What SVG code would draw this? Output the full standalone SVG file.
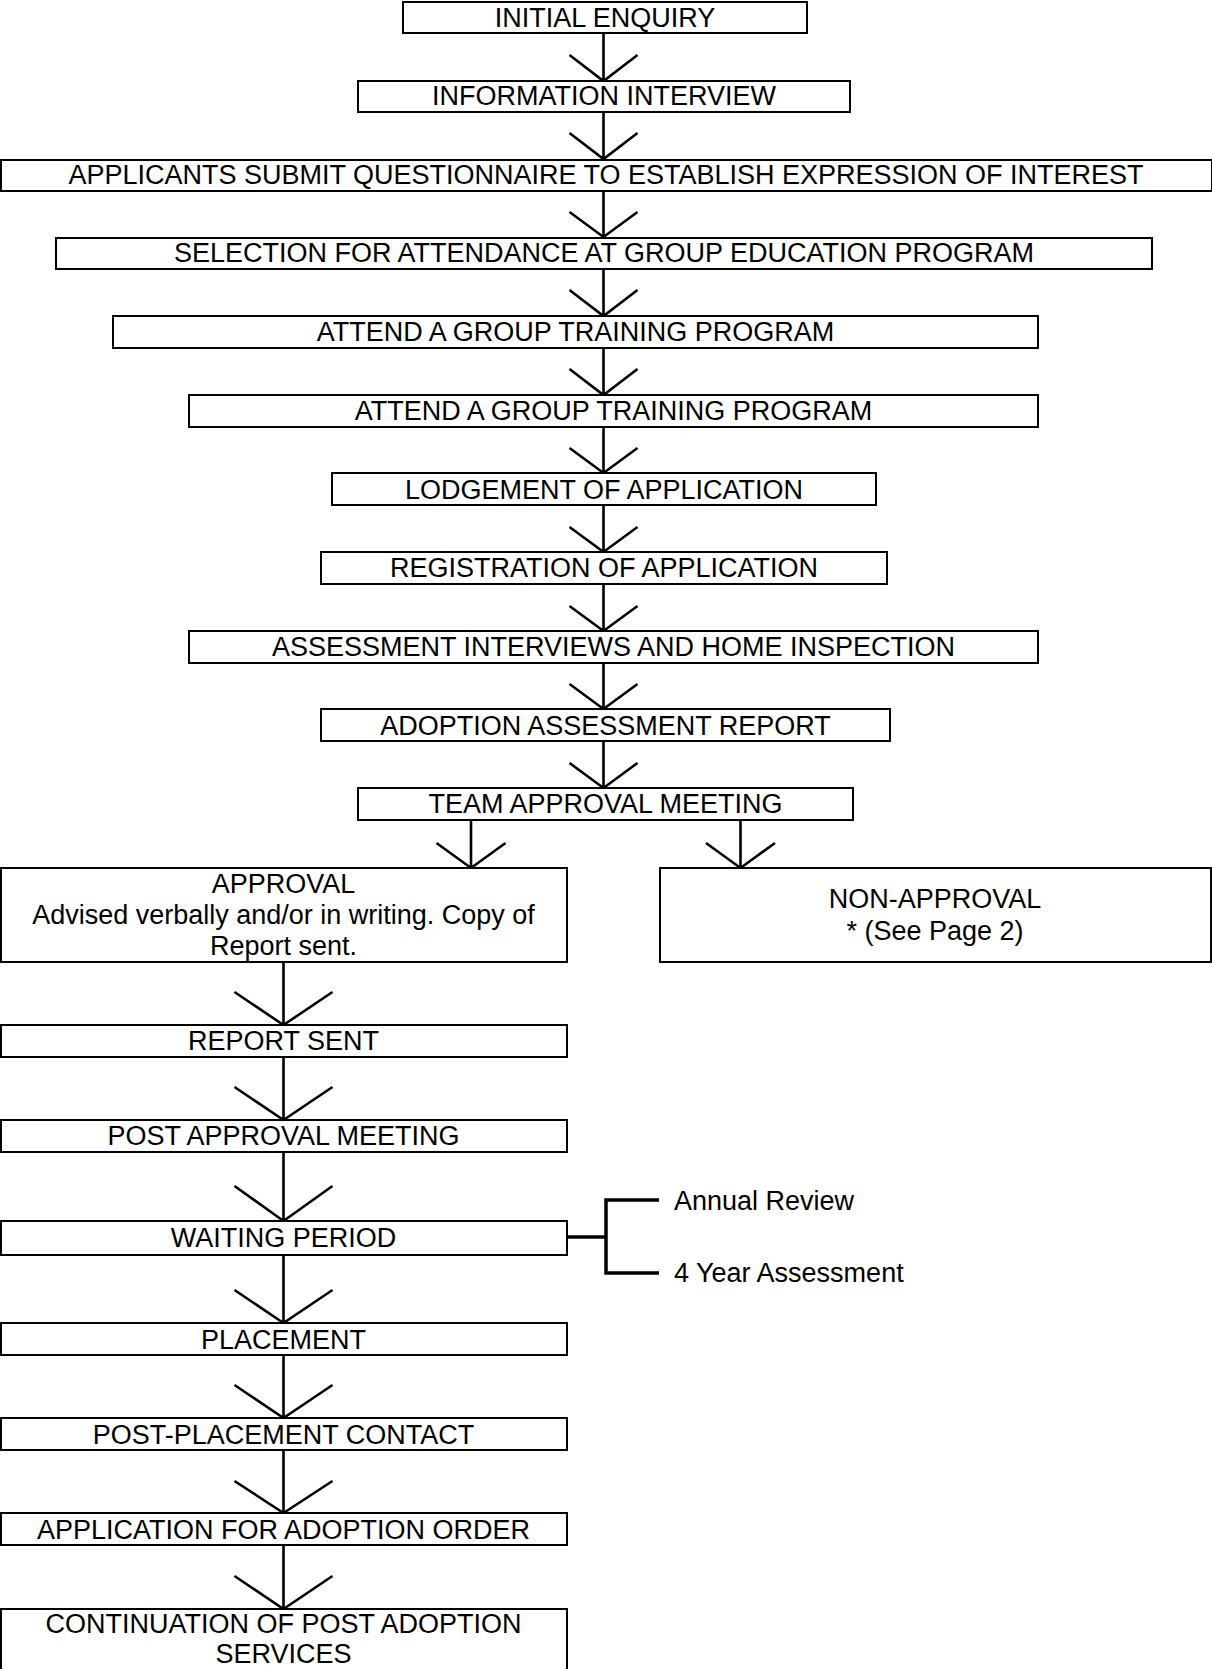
<svg xmlns="http://www.w3.org/2000/svg" width="1212" height="1669" viewBox="0 0 1212 1669">
<style>
.box{fill:#fff;stroke:#000;stroke-width:2}
.t{font-family:"Liberation Sans",Arial,sans-serif;font-size:27px;fill:#000;text-anchor:middle}
.s{font-family:"Liberation Sans",Arial,sans-serif;font-size:27px;fill:#000}
.ln{fill:none;stroke:#000;stroke-width:2.6}
.br{fill:none;stroke:#000;stroke-width:3.5}
</style>
<rect width="1212" height="1669" fill="#fff"/>
<g id="connectors">
<path class="ln" d="M603.5 33V81M569.5 55L603.5 81L637.5 55"/>
<path class="ln" d="M603.5 112V159M569.5 133L603.5 159L637.5 133"/>
<path class="ln" d="M603.5 191V237M569.5 212L603.5 237L637.5 212"/>
<path class="ln" d="M603.5 269V316M569.5 290L603.5 316L637.5 290"/>
<path class="ln" d="M603.5 348V395M569.5 369L603.5 395L637.5 369"/>
<path class="ln" d="M603.5 427V473M569.5 448L603.5 473L637.5 448"/>
<path class="ln" d="M603.5 505V552M569.5 527L603.5 552L637.5 527"/>
<path class="ln" d="M603.5 584V631M569.5 606L603.5 631L637.5 606"/>
<path class="ln" d="M603.5 663V709M569.5 684L603.5 709L637.5 684"/>
<path class="ln" d="M603.5 741V788M569.5 763L603.5 788L637.5 763"/>
<path class="ln" d="M471 820V868M436.5 843L471 868L505.5 843"/>
<path class="ln" d="M740.5 820V868M706 843L740.5 868L775 843"/>
<path class="ln" d="M283.5 962V1025M234.5 992L283.5 1025L332.5 992"/>
<path class="ln" d="M283.5 1057V1120M234.5 1087L283.5 1120L332.5 1087"/>
<path class="ln" d="M283.5 1152V1221M234.5 1186L283.5 1221L332.5 1186"/>
<path class="ln" d="M283.5 1255V1323M234.5 1290L283.5 1323L332.5 1290"/>
<path class="ln" d="M283.5 1355V1418M234.5 1385L283.5 1418L332.5 1385"/>
<path class="ln" d="M283.5 1450V1513M234.5 1481L283.5 1513L332.5 1481"/>
<path class="ln" d="M283.5 1545V1609M234.5 1576L283.5 1609L332.5 1576"/>
<path class="br" d="M567 1237H606M659 1200H606V1273H659"/>
</g>
<g id="n1"><rect class="box" x="403" y="2" width="404" height="31"/><text class="t" x="605" y="27">INITIAL ENQUIRY</text></g>
<g id="n2"><rect class="box" x="358" y="81" width="492" height="31"/><text class="t" x="604" y="105">INFORMATION INTERVIEW</text></g>
<g id="n3"><rect class="box" x="1" y="160" width="1211" height="31"/><text class="t" x="606" y="183.5">APPLICANTS SUBMIT QUESTIONNAIRE TO ESTABLISH EXPRESSION OF INTEREST</text></g>
<g id="n4"><rect class="box" x="56" y="238" width="1096" height="31"/><text class="t" x="604" y="262">SELECTION FOR ATTENDANCE AT GROUP EDUCATION PROGRAM</text></g>
<g id="n5"><rect class="box" x="113" y="316" width="925" height="32"/><text class="t" x="575.5" y="340.5">ATTEND A GROUP TRAINING PROGRAM</text></g>
<g id="n6"><rect class="box" x="189" y="395" width="849" height="32"/><text class="t" x="613.5" y="419.5">ATTEND A GROUP TRAINING PROGRAM</text></g>
<g id="n7"><rect class="box" x="332" y="473" width="544" height="32"/><text class="t" x="604" y="498.5">LODGEMENT OF APPLICATION</text></g>
<g id="n8"><rect class="box" x="321" y="552" width="566" height="32"/><text class="t" x="604" y="577">REGISTRATION OF APPLICATION</text></g>
<g id="n9"><rect class="box" x="189" y="631" width="849" height="32"/><text class="t" x="613.5" y="656">ASSESSMENT INTERVIEWS AND HOME INSPECTION</text></g>
<g id="n10"><rect class="box" x="321" y="709" width="569" height="32"/><text class="t" x="605.5" y="734.5">ADOPTION ASSESSMENT REPORT</text></g>
<g id="n11"><rect class="box" x="358" y="788" width="495" height="32"/><text class="t" x="605.5" y="812.5">TEAM APPROVAL MEETING</text></g>
<g id="n12"><rect class="box" x="1" y="868" width="566" height="94"/><text class="t" x="283.5" y="893">APPROVAL</text><text class="t" x="283.5" y="924">Advised verbally and/or in writing. Copy of</text><text class="t" x="283.5" y="955">Report sent.</text></g>
<g id="n13"><rect class="box" x="660" y="868" width="551" height="94"/><text class="t" x="935" y="908">NON-APPROVAL</text><text class="t" x="935" y="940">* (See Page 2)</text></g>
<g id="n14"><rect class="box" x="1" y="1025" width="566" height="32"/><text class="t" x="283.5" y="1049.5">REPORT SENT</text></g>
<g id="n15"><rect class="box" x="1" y="1120" width="566" height="32"/><text class="t" x="283.5" y="1144.5">POST APPROVAL MEETING</text></g>
<g id="n16"><rect class="box" x="1" y="1221" width="566" height="34"/><text class="t" x="283.5" y="1247">WAITING PERIOD</text></g>
<g id="n17"><rect class="box" x="1" y="1323" width="566" height="32"/><text class="t" x="283.5" y="1348.5">PLACEMENT</text></g>
<g id="n18"><rect class="box" x="1" y="1418" width="566" height="32"/><text class="t" x="283.5" y="1443.5">POST-PLACEMENT CONTACT</text></g>
<g id="n19"><rect class="box" x="1" y="1513" width="566" height="32"/><text class="t" x="283.5" y="1538.5">APPLICATION FOR ADOPTION ORDER</text></g>
<g id="n20"><rect class="box" x="1" y="1609" width="566" height="80"/><text class="t" x="283.5" y="1633">CONTINUATION OF POST ADOPTION</text><text class="t" x="283.5" y="1663">SERVICES</text></g>
<g id="n21"><text class="s" x="674" y="1210">Annual Review</text></g>
<g id="n22"><text class="s" x="674" y="1282">4 Year Assessment</text></g>
</svg>
